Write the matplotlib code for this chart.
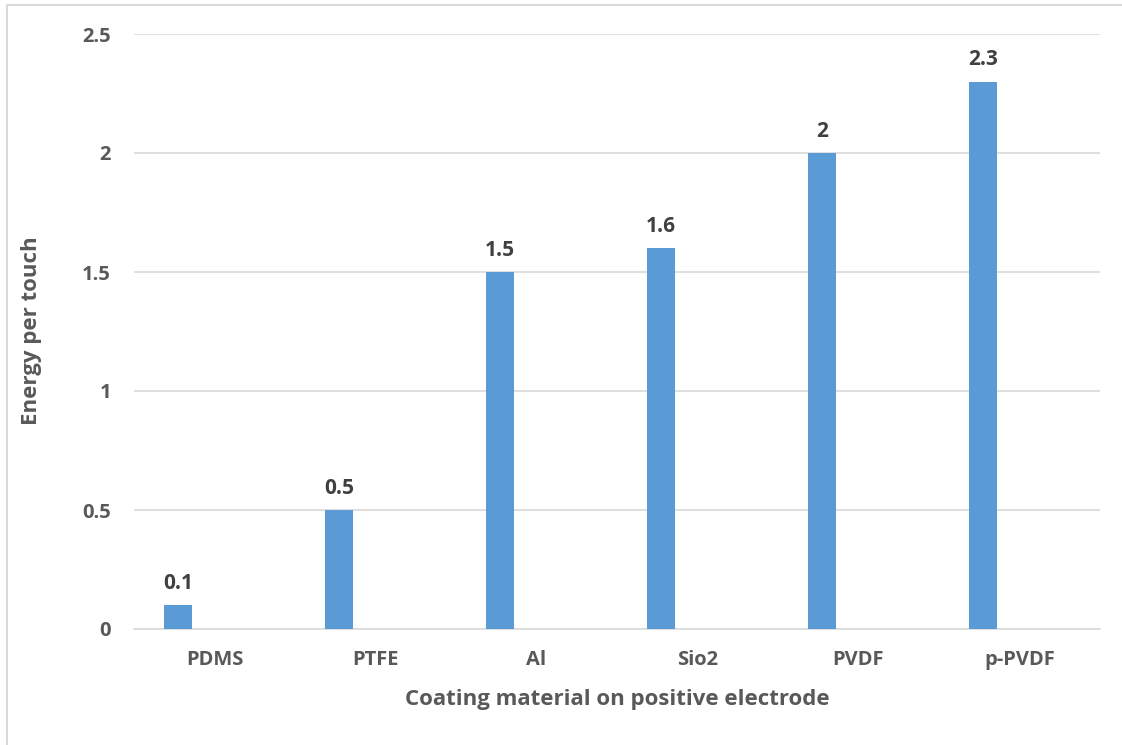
import matplotlib
matplotlib.use("Agg")
import matplotlib.pyplot as plt
from matplotlib.patches import Rectangle
import numpy as np

categories = ["PDMS", "PTFE", "Al", "Sio2", "PVDF", "p-PVDF"]
values = [0.1, 0.5, 1.5, 1.6, 2.0, 2.3]
labels = ["0.1", "0.5", "1.5", "1.6", "2", "2.3"]
yticks = [0, 0.5, 1, 1.5, 2, 2.5]
ytick_labels = ["0", "0.5", "1", "1.5", "2", "2.5"]

W, H = 1122, 745
fig = plt.figure(figsize=(W/100, H/100), dpi=100)
plt.rcParams['font.family'] = ['Open Sans', 'DejaVu Sans']

# outer frame
fig.patches.append(Rectangle((7/W, -0.1), 1.2, (H-5)/H + 0.1, transform=fig.transFigure,
                             fill=False, edgecolor='#D9D9D9', linewidth=1.5))

left, right, top, bottom = 134, 1100, 34, 629
ax = fig.add_axes([left/W, 1-bottom/H, (right-left)/W, (bottom-top)/H])

x = np.arange(len(categories))
offset = -0.227
width = 0.174
ax.bar(x + offset, values, width=width, color='#5B9BD5', zorder=3)
for xi, v, lab in zip(x, values, labels):
    ax.annotate(lab, (xi + offset, v), xytext=(0, 8), textcoords='offset points',
                ha='center', va='bottom', fontsize=15, fontweight='bold', color='#404040')

ax.set_xlim(-0.5, len(categories) - 0.5)
ax.set_ylim(0, 2.5)
ax.set_yticks(yticks)
ax.set_yticklabels(ytick_labels)
ax.set_xticks(x)
ax.set_xticklabels(categories)
ax.tick_params(axis='both', length=0, labelsize=14.5, labelcolor='#595959')
ax.tick_params(axis='y', pad=16.5)
ax.tick_params(axis='x', pad=15)
for lbl in ax.get_xticklabels() + ax.get_yticklabels():
    lbl.set_fontweight('bold')
ax.grid(axis='y', color='#D9D9D9', linewidth=1.2, zorder=0)
for s in ['top', 'right', 'left']:
    ax.spines[s].set_visible(False)
ax.spines['bottom'].set_color('#D9D9D9')
ax.spines['bottom'].set_linewidth(1.2)

fig.text(32/W, 1-331/H, "Energy per touch", rotation=90, ha='center', va='center',
         fontsize=16, fontweight='bold', color='#595959')
fig.text(617/W, 1-700/H, "Coating material on positive electrode", ha='center', va='center',
         fontsize=16, fontweight='bold', color='#595959')

fig.savefig("out.png", dpi=100)
